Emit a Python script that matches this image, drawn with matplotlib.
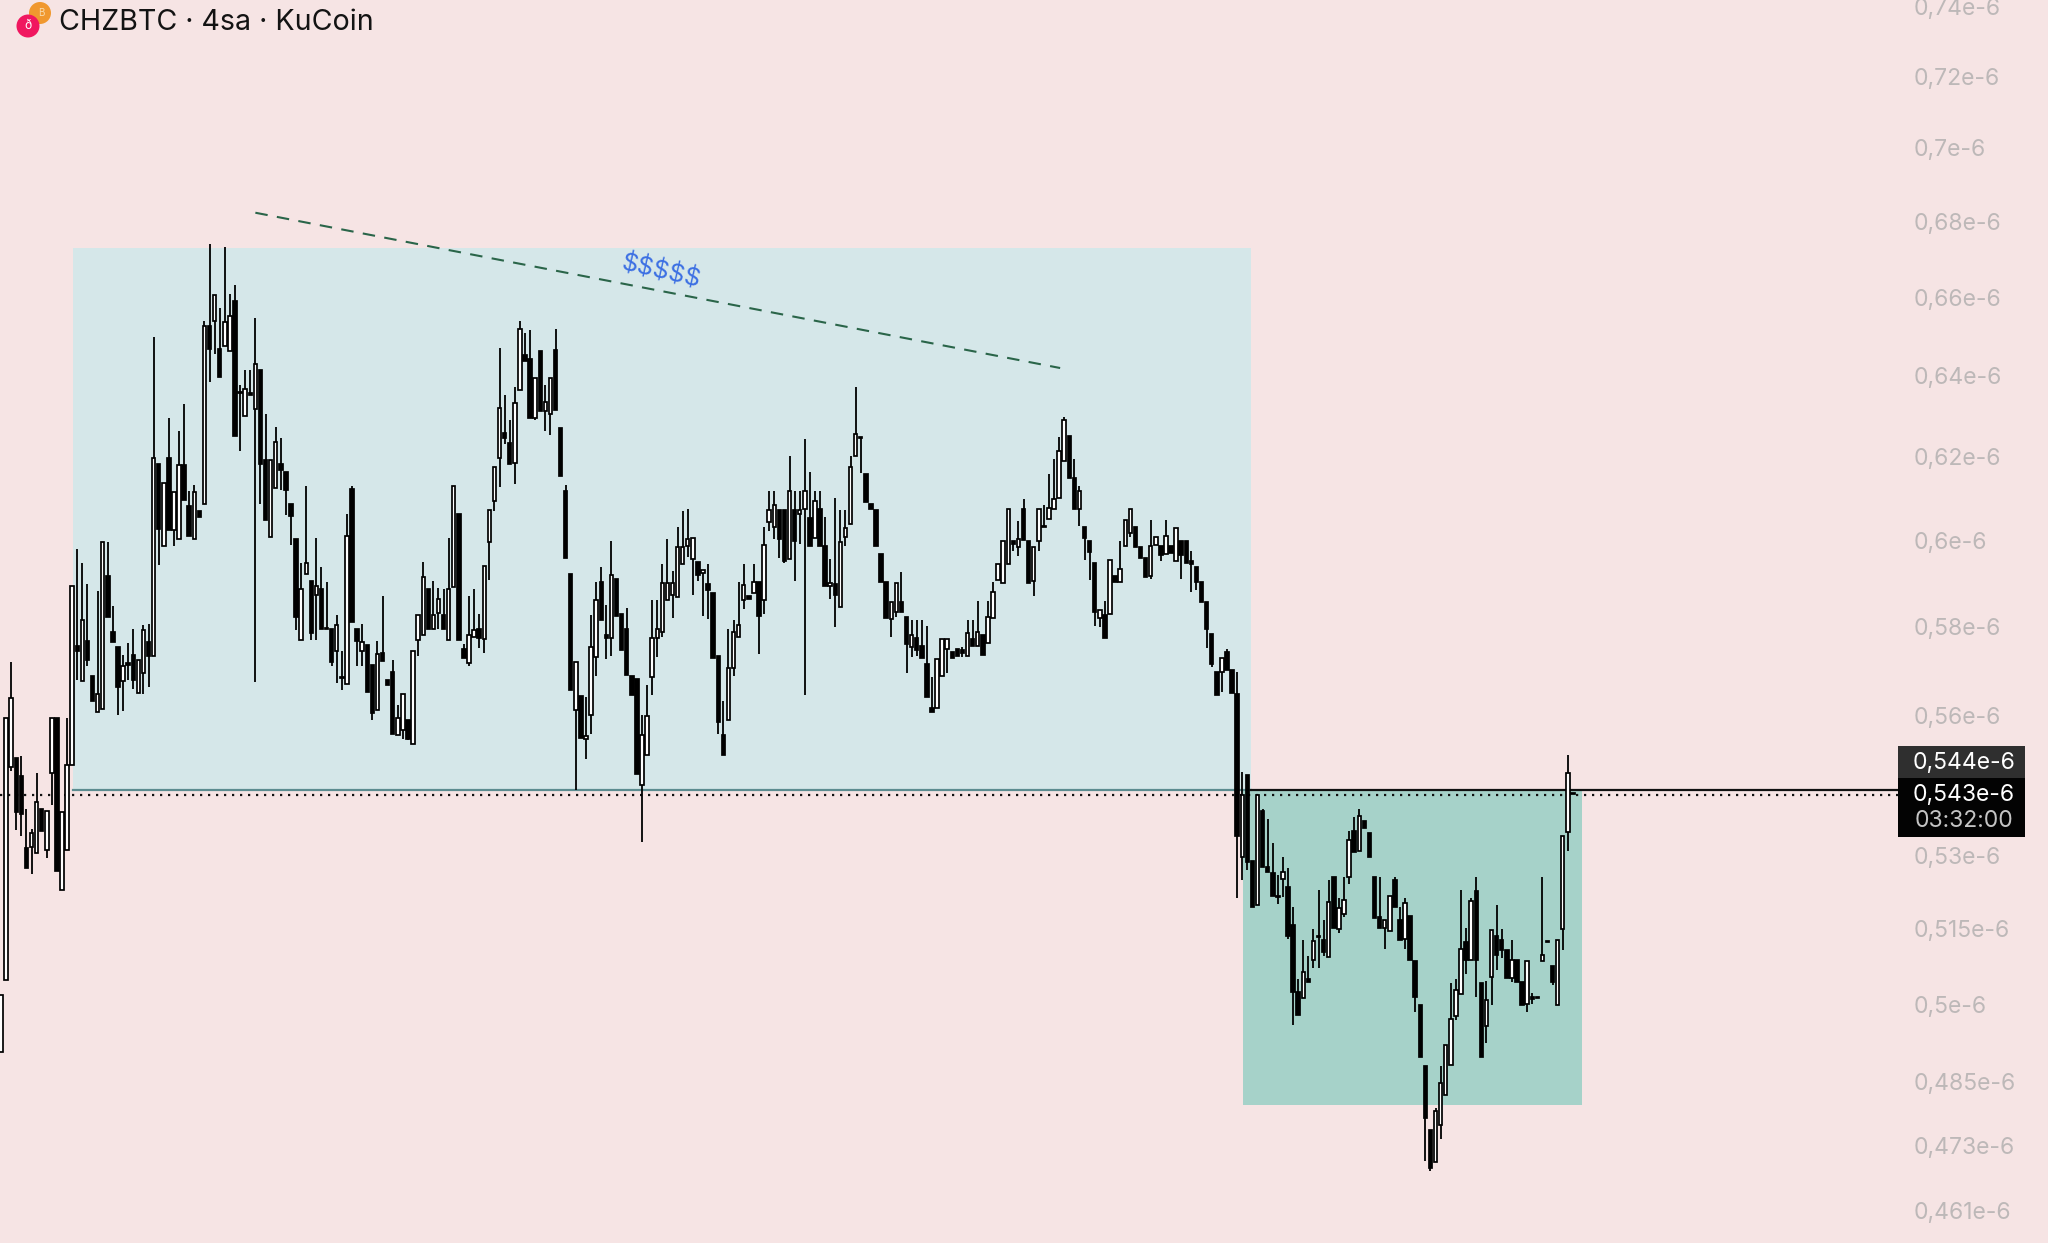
import numpy as np
import matplotlib
matplotlib.use("Agg")
import matplotlib.pyplot as plt
from matplotlib.patches import Rectangle, Circle
from matplotlib.transforms import IdentityTransform

# CHZBTC 4h candles, prices in units of 1e-6
opens = [
    .4907, .5048, .5489, .5508, .5470, .5316, .5318, .5306, .5398, .5313,
    .5476, .5596, .5230, .5313, .5493, .5755, .5678, .5767, .5688, .5609,
    .5615, .5917, .5788, .5753, .5678, .5717, .5735, .5650, .5695, .5765,
    .5733, .6183, .5987, .6197, .6024, .6003, .6179, .6082, .6003, .6070,
    .6085, .6528, .6541, .6469, .6475, .6464, .6592, .6360, .6299, .6357,
    .6318, .6416, .6193, .6008, .6125, .6183, .6163, .6087, .6003, .5770,
    .5921, .5904, .5872, .5886, .5797, .5795, .5745, .5687, .5670, .6122,
    .5794, .5745, .5757, .5713, .5612, .5740, .5680, .5697, .5557, .5569,
    .5591, .5539, .5770, .5780, .5886, .5795, .5831, .5826, .5770, .5891,
    .6061, .5749, .5718, .5777, .5795, .5771, .5996, .6094, .6197, .6259,
    .6233, .6186, .6365, .6453, .6442, .6296, .6463, .6313, .6304, .6465,
    .6271, .6117, .5920, .5612, .5643, .5549, .5601, .5731, .5902, .5780,
    .5773, .5909, .5828, .5795, .5688, .5681, .5449, .5515, .5686, .5773,
    .5787, .5860, .5871, .5868, .5945, .5987, .5955, .5949, .5924, .5897,
    .5876, .5734, .5557, .5591, .5705, .5775, .5861, .5870, .5876, .5902,
    .5860, .6043, .6031, .6072, .6072, .5955, .6072, .6061, .6074, .6052,
    .6004, .6074, .5987, .5893, .5897, .5845, .6007, .6039, .6203, .6248,
    .6158, .6086, .6072, .5967, .5902, .5816, .5832, .5857, .5821, .5753,
    .5774, .5755, .5714, .5617, .5617, .5688, .5749, .5742, .5749, .5746,
    .5734, .5771, .5755, .5781, .5762, .5819, .5906, .5901, .5944, .5997,
    .5985, .6074, .5997, .5904, .5997, .6034, .6050, .6075, .6100, .6189,
    .6251, .6148, .6075, .6031, .5997, .5946, .5819, .5827, .5829, .5917,
    .5902, .5986, .6016, .6031, .5985, .5958, .5915, .5989, .5986, .5968,
    .5986, .5952, .5997, .5997, .5952, .5936, .5902, .5857, .5783, .5698,
    .5698, .5743, .5701, .5648, .5298, .5472, .5290, .5199, .5395, .5277,
    .5265, .5217, .5253, .5235, .5157, .5023, .5013, .5049, .5087, .5135,
    .5128, .5093, .5256, .5150, .5181, .5257, .5352, .5311, .5374, .5348,
    .5256, .5175, .5152, .5145, .5249, .5169, .5130, .5177, .5085, .4999,
    .4880, .4758, .4699, .4768, .4825, .4881, .4976, .5019, .5123, .5088,
    .5228, .5041, .4957, .5053, .5136, .5128, .5107, .5052, .5087, .5043,
    .5000, .5015, .5014, .5085, .5125, .5075, .4998, .5150, .5349, .5432,
]
closes = [
    .5018, .5596, .5640, .5393, .5388, .5274, .5348, .5414, .5351, .5395,
    .5596, .5268, .5393, .5493, .5892, .5745, .5814, .5723, .5633, .5647,
    .5995, .5821, .5765, .5663, .5710, .5713, .5680, .5725, .5793, .5733,
    .6197, .6026, .6136, .6024, .6114, .6179, .6096, .6011, .6114, .6054,
    .6528, .6469, .6606, .6398, .6538, .6553, .6250, .6357, .6368, .6352,
    .6430, .6182, .6048, .6193, .6237, .6169, .6120, .6058, .5821, .5885,
    .5946, .5785, .5893, .5795, .5795, .5720, .5804, .5683, .6010, .5811,
    .5768, .5765, .5653, .5606, .5737, .5722, .5667, .5559, .5596, .5648,
    .5549, .5745, .5826, .5914, .5795, .5826, .5862, .5795, .5885, .6128,
    .5769, .5729, .5781, .5793, .5773, .5939, .6072, .6175, .6319, .6245,
    .6183, .6332, .6519, .6438, .6296, .6396, .6313, .6335, .6396, .6315,
    .6154, .5958, .5657, .5720, .5551, .5556, .5753, .5860, .5815, .5773,
    .5918, .5823, .5746, .5690, .5646, .5473, .5557, .5599, .5773, .5795,
    .5900, .5900, .5900, .5984, .5984, .6002, .6006, .5918, .5930, .5883,
    .5729, .5587, .5515, .5705, .5788, .5803, .5896, .5862, .5902, .5825,
    .5989, .6072, .6084, .6002, .5951, .6116, .5998, .6072, .6116, .5987,
    .6094, .5987, .5893, .5899, .5871, .5996, .6029, .6175, .6256, .6246,
    .6090, .6075, .5987, .5902, .5819, .5857, .5900, .5834, .5760, .5781,
    .5747, .5729, .5642, .5609, .5726, .5771, .5771, .5729, .5734, .5740,
    .5785, .5755, .5787, .5736, .5821, .5880, .5944, .5997, .6074, .5991,
    .6002, .6001, .5901, .5985, .6074, .6031, .6076, .6098, .6215, .6289,
    .6148, .6074, .6116, .6005, .5973, .5834, .5838, .5774, .5954, .5902,
    .5933, .6048, .6074, .5985, .5958, .5914, .5986, .6008, .5965, .6011,
    .5971, .6029, .5965, .5946, .5943, .5902, .5857, .5795, .5714, .5646,
    .5728, .5701, .5651, .5342, .5429, .5288, .5194, .5429, .5277, .5267,
    .5218, .5214, .5267, .5135, .5023, .4979, .5064, .5043, .5125, .5134,
    .5103, .5204, .5152, .5192, .5209, .5333, .5309, .5384, .5359, .5298,
    .5172, .5151, .5169, .5218, .5194, .5128, .5202, .5088, .5015, .4898,
    .4781, .4688, .4795, .4848, .4921, .4971, .5028, .5109, .5088, .5207,
    .5087, .4898, .5008, .5148, .5098, .5108, .5052, .5087, .5043, .4999,
    .5085, .5011, .5013, .5097, .5124, .5043, .5128, .5342, .5475, .5431,
]
highs = [
    .5018, .5596, .5720, .5508, .5513, .5398, .5357, .5475, .5398, .5395,
    .5596, .5596, .5393, .5596, .5892, .5979, .5947, .5898, .5688, .5881,
    .5995, .5995, .5847, .5753, .5735, .5763, .5794, .5725, .5804, .5806,
    .6498, .6183, .6136, .6296, .6114, .6262, .6329, .6118, .6131, .6070,
    .6539, .6741, .6606, .6572, .6733, .6610, .6634, .6377, .6414, .6414,
    .6547, .6416, .6304, .6193, .6274, .6245, .6163, .6087, .6003, .5946,
    .6128, .5904, .6005, .5936, .5902, .5795, .5827, .5745, .6063, .6128,
    .5794, .5806, .5757, .5713, .5767, .5869, .5680, .5725, .5623, .5648,
    .5591, .5745, .5826, .5948, .5886, .5904, .5888, .5886, .6005, .6128,
    .6061, .5760, .5869, .5886, .5828, .5939, .6072, .6175, .6470, .6352,
    .6289, .6372, .6540, .6509, .6517, .6396, .6463, .6377, .6396, .6519,
    .6271, .6131, .5920, .5720, .5643, .5641, .5827, .5902, .5937, .5849,
    .5997, .5909, .5828, .5842, .5688, .5681, .5601, .5669, .5860, .5860,
    .5945, .6002, .5928, .6031, .6070, .6074, .6006, .5949, .5930, .5945,
    .5876, .5734, .5633, .5795, .5815, .5902, .5945, .5870, .5945, .5902,
    .6031, .6117, .6117, .6072, .6072, .6203, .6117, .6117, .6243, .6163,
    .6117, .6117, .6054, .5955, .6100, .6072, .6072, .6203, .6372, .6248,
    .6158, .6086, .6072, .5967, .5902, .5857, .5900, .5926, .5821, .5815,
    .5815, .5815, .5801, .5687, .5726, .5771, .5771, .5742, .5749, .5753,
    .5815, .5815, .5859, .5781, .5859, .5902, .5944, .5997, .6074, .5997,
    .6046, .6098, .5997, .5985, .6074, .6083, .6158, .6194, .6248, .6297,
    .6251, .6194, .6128, .6031, .5997, .5946, .5838, .5859, .5954, .5917,
    .5997, .6048, .6074, .6031, .5985, .5958, .6048, .6008, .5986, .6048,
    .5986, .6029, .5997, .5997, .5975, .5936, .5902, .5857, .5783, .5698,
    .5728, .5749, .5701, .5698, .5477, .5472, .5290, .5429, .5398, .5377,
    .5326, .5260, .5297, .5274, .5194, .5049, .5128, .5096, .5150, .5230,
    .5169, .5249, .5256, .5212, .5257, .5353, .5381, .5398, .5374, .5348,
    .5256, .5256, .5169, .5218, .5256, .5194, .5212, .5177, .5085, .4999,
    .4880, .4758, .4800, .4879, .4921, .5041, .5049, .5230, .5152, .5212,
    .5256, .5041, .5045, .5148, .5199, .5150, .5107, .5128, .5087, .5043,
    .5085, .5021, .5014, .5256, .5125, .5075, .5128, .5342, .5514, .5432,
]
lows = [
    .4907, .5048, .5479, .5355, .5341, .5274, .5263, .5306, .5351, .5295,
    .5407, .5268, .5230, .5313, .5493, .5680, .5678, .5710, .5633, .5609,
    .5615, .5821, .5765, .5601, .5610, .5680, .5660, .5650, .5647, .5663,
    .5733, .5941, .5987, .6024, .5987, .6003, .6096, .6011, .6003, .6054,
    .6085, .6385, .6456, .6398, .6475, .6464, .6250, .6215, .6299, .6352,
    .5675, .6087, .6048, .6008, .6125, .6120, .6059, .5989, .5791, .5770,
    .5921, .5770, .5770, .5795, .5795, .5710, .5673, .5657, .5670, .5811,
    .5710, .5710, .5653, .5591, .5612, .5722, .5667, .5559, .5557, .5549,
    .5547, .5539, .5733, .5780, .5795, .5795, .5795, .5795, .5770, .5891,
    .5769, .5729, .5711, .5777, .5751, .5740, .5906, .6070, .6127, .6231,
    .6183, .6133, .6365, .6438, .6296, .6290, .6313, .6262, .6252, .6315,
    .6154, .5958, .5657, .5438, .5551, .5506, .5559, .5688, .5815, .5727,
    .5734, .5823, .5746, .5690, .5646, .5473, .5328, .5515, .5646, .5731,
    .5775, .5860, .5819, .5868, .5945, .5960, .5871, .5904, .5825, .5816,
    .5729, .5561, .5515, .5591, .5688, .5775, .5839, .5862, .5876, .5737,
    .5828, .6022, .6002, .5957, .5946, .5955, .5905, .5991, .5646, .5987,
    .6004, .5987, .5893, .5863, .5799, .5845, .5987, .6124, .6203, .6161,
    .6090, .6075, .5987, .5902, .5819, .5775, .5821, .5834, .5695, .5731,
    .5732, .5729, .5642, .5609, .5617, .5688, .5695, .5729, .5734, .5731,
    .5734, .5755, .5755, .5736, .5762, .5819, .5906, .5901, .5944, .5975,
    .5963, .6001, .5901, .5869, .5975, .6031, .6050, .6075, .6100, .6189,
    .6148, .6074, .6033, .5954, .5906, .5800, .5798, .5774, .5829, .5902,
    .5902, .5986, .6007, .5985, .5958, .5914, .5909, .5989, .5950, .5968,
    .5971, .5952, .5909, .5946, .5880, .5883, .5857, .5751, .5708, .5646,
    .5653, .5701, .5651, .5212, .5249, .5270, .5194, .5199, .5277, .5267,
    .5218, .5201, .5216, .5129, .4960, .4979, .5013, .5043, .5071, .5071,
    .5095, .5093, .5152, .5142, .5175, .5242, .5309, .5311, .5359, .5298,
    .5172, .5151, .5109, .5145, .5194, .5128, .5109, .5088, .4985, .4898,
    .4701, .4682, .4699, .4742, .4825, .4881, .4969, .5019, .5060, .5088,
    .5015, .4898, .4925, .4998, .5068, .5091, .5052, .5043, .5043, .4999,
    .4985, .5000, .5013, .5085, .5124, .5038, .4998, .5107, .5311, .5431,
]

tick_vals = [.74, .72, .70, .68, .66, .64, .62, .60, .58, .56, .53, .515, .50, .485, .473, .461]
tick_labels = ["0,74e-6", "0,72e-6", "0,7e-6", "0,68e-6", "0,66e-6", "0,64e-6", "0,62e-6", "0,6e-6",
               "0,58e-6", "0,56e-6", "0,53e-6", "0,515e-6", "0,5e-6", "0,485e-6", "0,473e-6", "0,461e-6"]

last_price = .5439
mid_price = .5428
W, H = 2048, 1243
BG = "#f6e4e4"

plt.rcParams["font.family"] = ["Inter", "DejaVu Sans"]

fig = plt.figure(figsize=(W / 100, H / 100), dpi=100, facecolor=BG)
ax = fig.add_axes([0, 0, 1898 / W, 1])
ax.set_facecolor(BG)
ax.set_yscale("log")
ax.set_xlim(-0.197, 372.9)
ax.set_ylim(.4552, .7419)
for s in ax.spines.values():
    s.set_visible(False)
ax.set_xticks([])
ax.set_yticks(tick_vals)
ax.set_yticklabels(tick_labels)
ax.minorticks_off()
ax.yaxis.tick_right()
ax.tick_params(axis="y", length=0, pad=11, labelsize=16.5, labelcolor="#bdb8b8")

# shaded zones
ax.add_patch(Rectangle((14.15, last_price), 245.7 - 14.15, .6730 - last_price, fc="#d5e7e9", ec="none", zorder=1))
ax.add_patch(Rectangle((244.2, .4806), 310.8 - 244.2, last_price - .4806, fc="#a6d2c9", ec="none", zorder=1))

# price lines
ax.plot([14.15, 245.7], [last_price, last_price], color="#5c8c90", lw=1.6, zorder=2)
ax.plot([245.7, 372.9], [last_price, last_price], color="#111111", lw=1.6, zorder=2)
ax.axhline(mid_price, color="#111111", lw=1.6, ls=(0, (1, 2.6)), zorder=2)

# trend line
ax.plot([50.0, 208.2], [.6824, .6420], color="#2a6549", lw=1.5, ls=(0, (6, 4.5)), zorder=2)
ax.text(129.7, .6667, "$$$$$", color="#3b6fe3", fontsize=18, rotation=-13,
        ha="center", va="center", zorder=6)

# candles
idx = np.arange(len(opens))
o = np.array(opens)
c = np.array(closes)
ax.vlines(idx, lows, highs, color="black", lw=1.3, zorder=3)
face = np.where(c >= o, "white", "black")
ax.bar(idx, np.abs(c - o), bottom=np.minimum(o, c), width=0.68, color=face,
       edgecolor="black", linewidth=1.25, zorder=4)

# last price boxes
def fx(x):
    return x / W

def fy(y):
    return 1 - y / H

fig.add_artist(Rectangle((fx(1898), fy(778)), 127 / W, 32 / H, fc="#2f2f2f", ec="none", transform=fig.transFigure))
fig.add_artist(Rectangle((fx(1898), fy(837)), 127 / W, 59 / H, fc="#030303", ec="none", transform=fig.transFigure))
fig.text(fx(1964), fy(763), "0,544e-6", color="white", fontsize=16.5, ha="center", va="center")
fig.text(fx(1964), fy(795), "0,543e-6", color="white", fontsize=16.5, ha="center", va="center")
fig.text(fx(1964), fy(821), "03:32:00", color="#c4c4c4", fontsize=16.5, ha="center", va="center")

# header
fig.add_artist(Circle((40, H - 13), 11, fc="#f0982f", ec="none", transform=IdentityTransform()))
fig.add_artist(Circle((28, H - 26), 11.5, fc="#f0175f", ec="none", transform=IdentityTransform()))
fig.text(fx(41), fy(13), "B", color="#f8d9a8", fontsize=7, ha="center", va="center")
fig.text(fx(28), fy(26), "ð", color="white", fontsize=9, ha="center", va="center")
fig.text(fx(59), fy(22), "CHZBTC · 4sa · KuCoin", color="#131313", fontsize=20.6, ha="left", va="center")

fig.savefig("out.png", dpi=100, facecolor=BG)
